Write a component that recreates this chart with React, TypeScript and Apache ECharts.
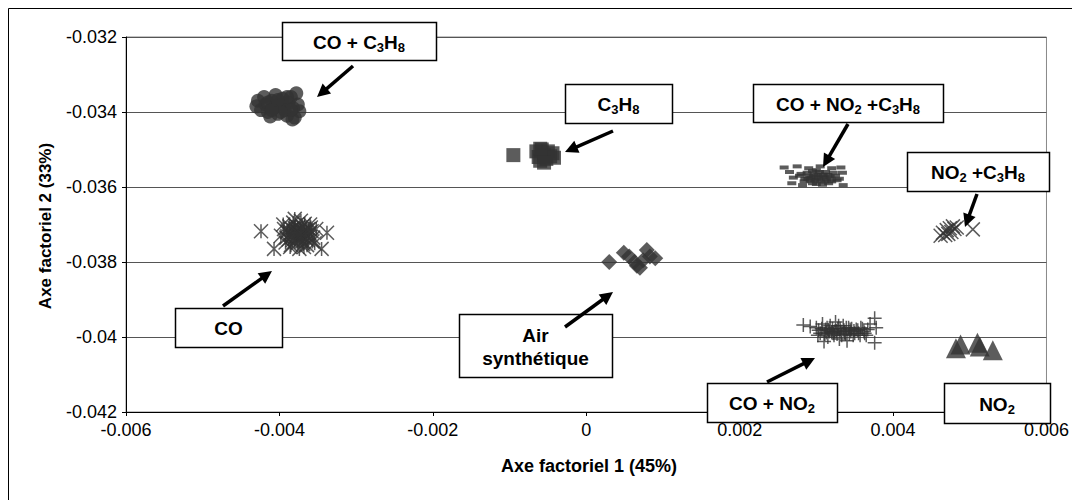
import React, { useEffect, useRef } from 'react';
import * as echarts from 'echarts';

// ---- data (Axe factoriel 1, Axe factoriel 2) ----
const coC3H8: number[][] = [
  [-0.0043, -0.03385], [-0.00428, -0.0337], [-0.00424, -0.03395], [-0.0042, -0.0336], [-0.00418, -0.0338],
  [-0.00415, -0.034], [-0.0041, -0.0337], [-0.00408, -0.0339], [-0.00405, -0.03355], [-0.00402, -0.03405],
  [-0.004, -0.0338], [-0.00396, -0.03365], [-0.00393, -0.03395], [-0.0039, -0.0341], [-0.00388, -0.03375],
  [-0.00385, -0.0336], [-0.00382, -0.0339], [-0.0038, -0.03415], [-0.00378, -0.0335], [-0.00376, -0.0338],
  [-0.00374, -0.03398], [-0.00383, -0.0342], [-0.00412, -0.03412], [-0.00415, -0.03375], [-0.00405, -0.03385],
  [-0.00395, -0.0338], [-0.00385, -0.03395], [-0.00398, -0.034], [-0.0041, -0.03395], [-0.0039, -0.0336],
  [-0.00402, -0.03368],
];
const c3h8: number[][] = [
  [-0.00095, -0.03515], [-0.00065, -0.03505], [-0.00062, -0.0352], [-0.0006, -0.0353], [-0.00058, -0.035],
  [-0.00055, -0.03515], [-0.00052, -0.03525], [-0.0005, -0.03505], [-0.00047, -0.03518], [-0.00044, -0.0351],
  [-0.00042, -0.03522], [-0.00055, -0.03535], [-0.0006, -0.03498],
];
const coNo2C3H8: number[][] = [
  [0.00258, -0.03548], [0.00275, -0.03545], [0.0029, -0.0355], [0.00305, -0.03545], [0.0032, -0.0355],
  [0.00332, -0.03548], [0.00334, -0.03562], [0.00265, -0.0356], [0.0028, -0.03565], [0.00295, -0.03558],
  [0.00302, -0.03568], [0.00312, -0.0356], [0.00325, -0.0357], [0.0027, -0.03575], [0.00285, -0.03578],
  [0.00298, -0.03582], [0.0031, -0.03575], [0.0032, -0.03585], [0.0033, -0.03578], [0.00268, -0.0359],
  [0.00282, -0.03595], [0.00295, -0.0359], [0.00308, -0.03594], [0.00335, -0.03595], [0.0029, -0.0357],
  [0.00315, -0.03568], [0.003, -0.03555], [0.00288, -0.03562], [0.00293, -0.03575], [0.00297, -0.03566],
  [0.003, -0.0358], [0.00304, -0.0356], [0.00306, -0.03585], [0.00309, -0.03567], [0.00313, -0.0358],
  [0.00316, -0.0359], [0.00318, -0.03572], [0.00322, -0.03562], [0.00327, -0.03582], [0.00284, -0.03585],
  [0.00278, -0.0357], [0.003, -0.03592], [0.00292, -0.03583], [0.00296, -0.03572], [0.00303, -0.03576],
  [0.00311, -0.03585], [0.00307, -0.03572], [0.00289, -0.03578], [0.00319, -0.03578],
];
const co: number[][] = [
  [-0.00424, -0.03718], [-0.00407, -0.03765], [-0.00345, -0.03765], [-0.00338, -0.03722], [-0.00395, -0.037],
  [-0.0039, -0.0372], [-0.00388, -0.0374], [-0.00385, -0.03755], [-0.00382, -0.03695], [-0.0038, -0.0371],
  [-0.00378, -0.0373], [-0.00376, -0.03748], [-0.00374, -0.03765], [-0.00372, -0.0369], [-0.0037, -0.03705],
  [-0.00368, -0.03722], [-0.00366, -0.03738], [-0.00364, -0.03755], [-0.0036, -0.037], [-0.00358, -0.03718],
  [-0.00356, -0.03735], [-0.00354, -0.0375], [-0.00352, -0.03712], [-0.00398, -0.0373], [-0.00384, -0.03712],
  [-0.00375, -0.0372], [-0.00362, -0.03728], [-0.0037, -0.03745], [-0.00392, -0.03748], [-0.0038, -0.03685],
  [-0.00394, -0.03712], [-0.00391, -0.03735], [-0.00387, -0.03705], [-0.00386, -0.03725], [-0.00383, -0.03742],
  [-0.00381, -0.03722], [-0.00379, -0.03702], [-0.00377, -0.03738], [-0.00373, -0.03712], [-0.00371, -0.03732],
  [-0.00369, -0.03752], [-0.00367, -0.03698], [-0.00365, -0.03715], [-0.00363, -0.03742], [-0.00361, -0.03722],
  [-0.00359, -0.03708], [-0.00357, -0.03745], [-0.00374, -0.03728], [-0.00386, -0.0376], [-0.00368, -0.0376],
  [-0.00389, -0.03716], [-0.00384, -0.03732], [-0.00379, -0.03718], [-0.00376, -0.03708], [-0.00372, -0.03738],
  [-0.00369, -0.03716], [-0.00366, -0.03728], [-0.00362, -0.03712], [-0.0038, -0.03746], [-0.00372, -0.03724],
];
const no2C3H8: number[][] = [
  [0.00462, -0.0373], [0.00465, -0.03722], [0.00468, -0.03728], [0.0047, -0.03715], [0.00472, -0.03725],
  [0.00474, -0.0371], [0.00476, -0.0372], [0.00478, -0.03705], [0.0048, -0.03712], [0.00483, -0.03708],
  [0.00504, -0.03713],
];
const air: number[][] = [
  [0.0003, -0.038], [0.00049, -0.03775], [0.00056, -0.03785], [0.00063, -0.038], [0.0007, -0.03815],
  [0.00074, -0.03795], [0.00079, -0.03768], [0.00083, -0.03785], [0.0009, -0.0379], [0.00066, -0.0381],
];
const coNo2: number[][] = [
  [0.00283, -0.03968], [0.00292, -0.03972], [0.003, -0.03975], [0.00305, -0.0399], [0.00308, -0.03965],
  [0.00312, -0.0398], [0.00315, -0.04], [0.00318, -0.0397], [0.0032, -0.03988], [0.00323, -0.03995],
  [0.00325, -0.0396], [0.00328, -0.03978], [0.0033, -0.04005], [0.00332, -0.03985], [0.00335, -0.0397],
  [0.00338, -0.03992], [0.0034, -0.0401], [0.00342, -0.03975], [0.00345, -0.03985], [0.00348, -0.03995],
  [0.00352, -0.0398], [0.00355, -0.0399], [0.00358, -0.03975], [0.00362, -0.03985], [0.00365, -0.03995],
  [0.0037, -0.03965], [0.00376, -0.0395], [0.00378, -0.03975], [0.00376, -0.04015], [0.0031, -0.04012],
  [0.00302, -0.03995], [0.00303, -0.03982], [0.00307, -0.03978], [0.00311, -0.03992], [0.00314, -0.03975],
  [0.00317, -0.03985], [0.00321, -0.03978], [0.00324, -0.03985], [0.00327, -0.03992], [0.00329, -0.0397],
  [0.00333, -0.03995], [0.00336, -0.03982], [0.00339, -0.03975], [0.00343, -0.03992], [0.00346, -0.03978],
  [0.0035, -0.0399], [0.00354, -0.03982], [0.00357, -0.03995], [0.0036, -0.03978], [0.00363, -0.0399],
  [0.00367, -0.0398], [0.00316, -0.03982], [0.00322, -0.0399], [0.00331, -0.03978], [0.00337, -0.03988],
  [0.00344, -0.0398], [0.00349, -0.03984], [0.00326, -0.03984], [0.00313, -0.03988],
];
const no2: number[][] = [
  [0.00482, -0.0403], [0.00488, -0.0402], [0.0051, -0.04015], [0.00513, -0.04025], [0.0053, -0.04035],
];

const xAxisTitle = 'Axe factoriel 1 (45%)';
const yAxisTitle = 'Axe factoriel 2 (33%)';

const FONT = '"Liberation Sans", Arial, sans-serif';
const MARK = '#333333';

// annotation boxes: [x, y, w, h], rich text
const boxes: { r: number[]; t: string }[] = [
  { r: [282, 22, 154, 38], t: '{b|CO + C}{s|3}{b|H}{s|8}' },
  { r: [565, 84, 107, 39], t: '{b|C}{s|3}{b|H}{s|8}' },
  { r: [753, 84, 190, 38], t: '{b|CO + NO}{s|2}{b| +C}{s|3}{b|H}{s|8}' },
  { r: [907, 152, 142, 39], t: '{b|NO}{s|2}{b| +C}{s|3}{b|H}{s|8}' },
  { r: [175, 308, 107, 39], t: '{b|CO}' },
  { r: [459, 314, 153, 63], t: '{b|Air}\n{b|synthétique}' },
  { r: [707, 383, 130, 39], t: '{b|CO + NO}{s|2}' },
  { r: [944, 383, 106, 40], t: '{b|NO}{s|2}' },
];
// arrows: start -> tip
const arrows: number[][] = [
  [353, 66, 317, 97],
  [613, 131, 565, 152],
  [848, 124, 823, 167],
  [977, 194, 965, 227],
  [223, 306, 272, 271],
  [565, 327, 613, 292],
  [767, 382, 815, 358],
];

function arrowEls(a: number[]) {
  const [x1, y1, x2, y2] = a;
  const dx = x2 - x1, dy = y2 - y1;
  const L = Math.hypot(dx, dy);
  const ux = dx / L, uy = dy / L;
  const hl = 13, hw = 6.5;
  const bx = x2 - ux * hl, by = y2 - uy * hl;
  return [
    { type: 'line', z: 110, shape: { x1, y1, x2: bx + ux * 2, y2: by + uy * 2 }, style: { stroke: '#000', lineWidth: 3.5 } },
    { type: 'polygon', z: 110, shape: { points: [[x2, y2], [bx - uy * hw, by + ux * hw], [bx + uy * hw, by - ux * hw]] }, style: { fill: '#000' } },
  ];
}

const rich = {
  b: { fontSize: 19, fontWeight: 'bold', fontFamily: FONT, lineHeight: 23, fill: '#000' },
  s: { fontSize: 13, fontWeight: 'bold', fontFamily: FONT, lineHeight: 13, verticalAlign: 'bottom', fill: '#000' },
};

export default function App() {
  const ref = useRef<HTMLDivElement>(null);
  useEffect(() => {
    if (!ref.current) return;
    const chart = echarts.init(ref.current, undefined, { renderer: 'svg' });
    const graphic: any[] = [
      { type: 'rect', z: -10, shape: { x: 8.5, y: 8.5, width: 1200, height: 1200 }, style: { fill: 'none', stroke: '#000', lineWidth: 1 }, silent: true },
      {
        type: 'text', x: 45, y: 226, rotation: Math.PI / 2, z: 100,
        style: { text: yAxisTitle, fontSize: 17, fontWeight: 'bold', fontFamily: FONT, fill: '#000', align: 'center', verticalAlign: 'middle' },
      },
      {
        type: 'text', x: 589, y: 466, z: 100,
        style: { text: xAxisTitle, fontSize: 18, fontWeight: 'bold', fontFamily: FONT, fill: '#000', align: 'center', verticalAlign: 'middle' },
      },
    ];
    boxes.forEach((b) => {
      const [x, y, w, h] = b.r;
      graphic.push({ type: 'rect', z: 100, shape: { x: x + 0.5, y: y + 0.5, width: w, height: h }, style: { fill: '#fff', stroke: '#000', lineWidth: 1.5 } });
      graphic.push({
        type: 'text', z: 101, x: x + w / 2, y: y + h / 2 + 1,
        style: { text: b.t, rich, align: 'center', verticalAlign: 'middle', fontFamily: FONT, fontSize: 19, fontWeight: 'bold' },
      });
    });
    arrows.forEach((a) => graphic.push(...arrowEls(a)));

    const strokeStyle = { color: 'rgba(0,0,0,0)', borderColor: MARK, borderWidth: 1.5 };
    chart.setOption({
      animation: false,
      backgroundColor: '#fff',
      grid: { left: 126, right: 20, top: 37, bottom: 88, show: true, borderColor: '#888', borderWidth: 1 },
      xAxis: {
        type: 'value', min: -0.006, max: 0.006, interval: 0.002,
        axisLine: { show: true, onZero: false, lineStyle: { color: '#000', width: 1 } },
        axisTick: { show: true, length: 4, lineStyle: { color: '#000' } },
        axisLabel: { color: '#000', fontSize: 18, fontFamily: FONT, margin: 9 },
        splitLine: { show: false },
      },
      yAxis: {
        type: 'value', min: -0.042, max: -0.032, interval: 0.002,
        axisLine: { show: true, onZero: false, lineStyle: { color: '#000', width: 1 } },
        axisTick: { show: true, length: 4, lineStyle: { color: '#000' } },
        axisLabel: { color: '#000', fontSize: 18, fontFamily: FONT, margin: 9 },
        splitLine: { show: true, lineStyle: { color: '#555', width: 1 } },
      },
      series: [
        { name: 'CO + C3H8', type: 'scatter', data: coC3H8, symbol: 'circle', symbolSize: 14, itemStyle: { color: MARK } },
        { name: 'C3H8', type: 'scatter', data: c3h8, symbol: 'rect', symbolSize: 14, itemStyle: { color: MARK } },
        { name: 'CO + NO2 + C3H8', type: 'scatter', data: coNo2C3H8, symbol: 'rect', symbolSize: [9, 4], itemStyle: { color: MARK } },
        { name: 'CO', type: 'scatter', data: co, symbol: 'path://M0,0L10,10M10,0L0,10M5,0L5,10', symbolSize: 14, itemStyle: strokeStyle },
        { name: 'NO2 + C3H8', type: 'scatter', data: no2C3H8, symbol: 'path://M0,0L10,10M10,0L0,10', symbolSize: 14, itemStyle: strokeStyle },
        { name: 'Air synthétique', type: 'scatter', data: air, symbol: 'diamond', symbolSize: 16, itemStyle: { color: MARK } },
        { name: 'CO + NO2', type: 'scatter', data: coNo2, symbol: 'path://M5,0L5,10M0,5L10,5', symbolSize: 14, itemStyle: strokeStyle },
        { name: 'NO2', type: 'scatter', data: no2, symbol: 'triangle', symbolSize: 20, itemStyle: { color: MARK } },
      ],
      graphic,
    });
    return () => chart.dispose();
  }, []);
  return <div ref={ref} style={{ position: 'absolute', left: 0, top: 0, width: 1072, height: 500 }} />;
}
